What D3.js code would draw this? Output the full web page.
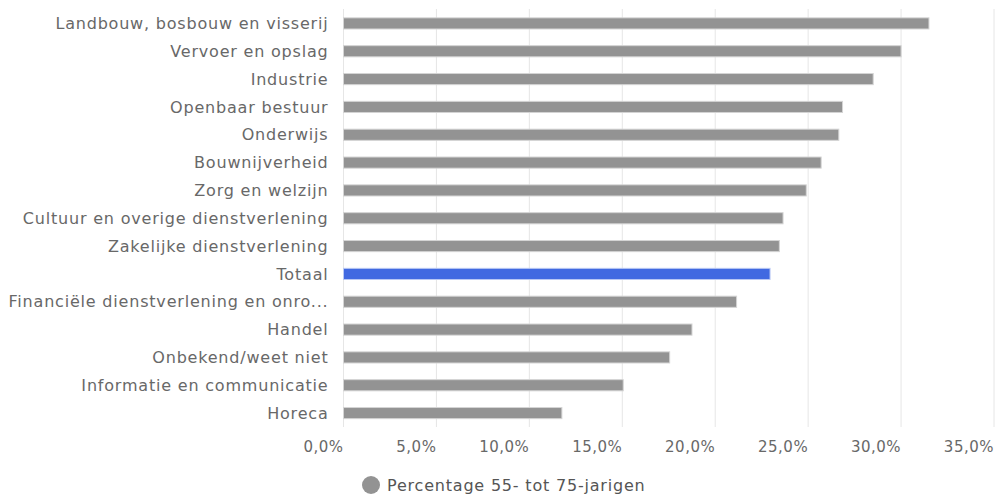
<!DOCTYPE html>
<html>
<head>
<meta charset="utf-8">
<script src="https://cdn.jsdelivr.net/npm/d3@7"></script>
<style>
  body { margin: 0; background: #fff; }
  svg text { font-family: "DejaVu Sans", "Noto Sans", sans-serif; }
</style>
</head>
<body>
<div id="chart"></div>
<script>
// Categories, top to bottom
var categories = [
    "Landbouw, bosbouw en visserij",
    "Vervoer en opslag",
    "Industrie",
    "Openbaar bestuur",
    "Onderwijs",
    "Bouwnijverheid",
    "Zorg en welzijn",
    "Cultuur en overige dienstverlening",
    "Zakelijke dienstverlening",
    "Totaal",
    "Financiële dienstverlening en onro...",
    "Handel",
    "Onbekend/weet niet",
    "Informatie en communicatie",
    "Horeca"
];

// Percentage 55- tot 75-jarigen
var values = [31.5, 30.0, 28.5, 26.85, 26.65, 25.7, 24.9, 23.65, 23.45, 22.95, 21.15, 18.75, 17.55, 15.05, 11.75];

var ticks = [0, 5, 10, 15, 20, 25, 30, 35];
var seriesName = "Percentage 55- tot 75-jarigen";

var width = 997, height = 497;
var margin = { top: 9, right: 3, bottom: 70, left: 343.5 };

var svg = d3.select("#chart").append("svg")
    .attr("width", width)
    .attr("height", height);

var x = d3.scaleLinear()
    .domain([0, 35])
    .range([margin.left, width - margin.right]);

var y = d3.scaleBand()
    .domain(categories)
    .range([margin.top, height - margin.bottom - 0.5])
    .paddingInner(0.6)
    .paddingOuter(0.3);

var fmt = function(d) { return d.toFixed(1).replace(".", ",") + "%"; };

// Gridlines
svg.append("g")
    .selectAll("line").data(ticks)
    .enter().append("line")
      .attr("x1", function(d) { return x(d); })
      .attr("x2", function(d) { return x(d); })
      .attr("y1", margin.top)
      .attr("y2", height - margin.bottom)
      .attr("stroke", "#e6e6e6")
      .attr("stroke-width", 1);

// Bars
svg.append("g")
    .selectAll("rect").data(values)
    .enter().append("rect")
      .attr("x", x(0))
      .attr("y", function(d, i) { return y(categories[i]) + 0.5; })
      .attr("width", function(d) { return x(d) - x(0); })
      .attr("height", y.bandwidth())
      .attr("fill", function(d, i) { return categories[i] == "Totaal" ? "#4169e1" : "#939393"; })
      .attr("stroke", function(d, i) { return categories[i] == "Totaal" ? "#b9c8f4" : "#d4d4d4"; })
      .attr("stroke-width", 1);

// Category labels
svg.append("g")
    .selectAll("text").data(categories)
    .enter().append("text")
      .attr("x", margin.left - 15)
      .attr("y", function(d) { return y(d) + y.bandwidth() / 2 + 0.5; })
      .attr("dy", "0.35em")
      .attr("text-anchor", "end")
      .attr("font-size", "16px")
      .attr("letter-spacing", "0.8px")
      .attr("fill", "#686868")
      .text(function(d) { return d; });

// X axis labels
svg.append("g")
    .selectAll("text").data(ticks)
    .enter().append("text")
      .attr("x", function(d) { return x(d); })
      .attr("y", 452)
      .attr("text-anchor", "end")
      .attr("font-size", "15px")
      .attr("letter-spacing", "0.5px")
      .attr("fill", "#686868")
      .text(fmt);

// Legend
var legend = svg.append("g");
legend.append("circle")
    .attr("cx", 371)
    .attr("cy", 485)
    .attr("r", 9)
    .attr("fill", "#939393");
legend.append("text")
    .attr("x", 387)
    .attr("y", 485)
    .attr("dy", "0.35em")
    .attr("font-size", "16px")
    .attr("letter-spacing", "0.8px")
    .attr("fill", "#555")
    .text(seriesName);
</script>
</body>
</html>
